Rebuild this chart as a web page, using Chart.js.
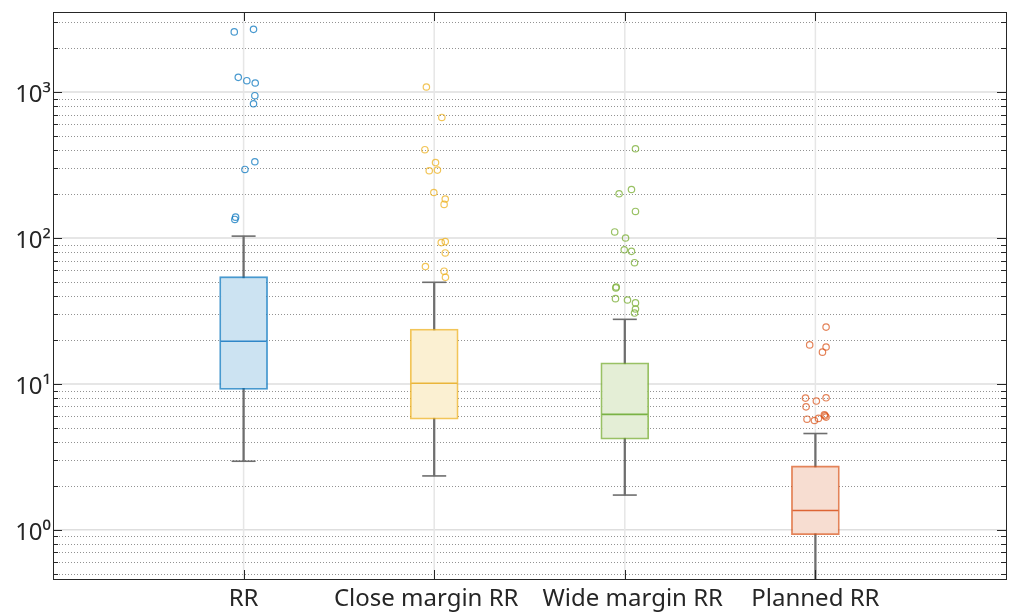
<!DOCTYPE html>
<html>
<head>
<meta charset="utf-8">
<script src="https://cdn.jsdelivr.net/npm/chart.js@4.4.1/dist/chart.umd.min.js"></script>
<style>
  body { margin: 0; background: #fff; }
  canvas { display: block; }
</style>
</head>
<body>
<canvas id="rrChart" width="1009" height="613"></canvas>
<script>
// ---- data ----
var categories = ['RR', 'Close margin RR', 'Wide margin RR', 'Planned RR'];
var whiskerLow  = [2.95, 2.34, 1.73, 0.40];
var boxLow      = [9.17, 5.73, 4.18, 0.927];
var medians     = [19.6, 10.1, 6.18, 1.355];
var boxHigh     = [54.3, 23.8, 13.96, 2.74];
var whiskerHigh = [103, 49.7, 27.7, 4.57];

var outliersRR = [2585, 2693, 1262, 1197, 1154, 945, 832, 333, 295, 139, 134];
var jitterRR   = [-0.049, 0.052, -0.028, 0.017, 0.061, 0.059, 0.052, 0.059, 0.007, -0.042, -0.046];

var outliersClose = [1084, 670, 403, 329, 289, 292, 205, 185, 170, 93, 94.5, 79, 63.7, 59.2, 53.8];
var jitterClose   = [-0.041, 0.040, -0.049, 0.007, -0.026, 0.017, -0.002, 0.058, 0.052, 0.037, 0.058, 0.058, -0.046, 0.052, 0.059];

var outliersWide = [409, 215, 201, 152, 110, 100, 83, 81, 67.7, 46.2, 45.5, 38.4, 37.6, 35.9, 32.6, 30.6];
var jitterWide   = [0.056, 0.035, -0.030, 0.056, -0.053, 0.004, -0.003, 0.035, 0.051, -0.045, -0.047, -0.049, 0.014, 0.056, 0.056, 0.051];

var outliersPlanned = [24.5, 18.5, 17.9, 16.5, 7.99, 7.63, 8.03, 6.96, 5.73, 5.61, 5.80, 6.14, 5.92, 6.04];
var jitterPlanned   = [0.056, -0.030, 0.056, 0.037, -0.052, 0.005, 0.056, -0.049, -0.044, -0.005, 0.016, 0.047, 0.056, 0.051];

var yTickValues = [1, 10, 100, 1000];
var yTickLabels = ['10\u2070', '10\u00b9', '10\u00b2', '10\u00b3'];

// ---- styles ----
var edgeColors = ['rgba(0,114,189,0.72)', 'rgba(237,177,32,0.75)', 'rgba(119,172,48,0.75)', 'rgba(217,83,25,0.72)'];
var lineColors = ['#2f86c8', '#eab53a', '#7ab245', '#dd6434'];
var fillColors = ['#cce3f2', '#fbf0d2', '#e4eed6', '#f7ddd1'];
// the two middle labels sit a little apart in the original
var labelPadBefore = ['', '', '\u2002\u2009', ''];
var labelPadAfter  = ['', '\u2002\u2009', '', ''];
var axisColor = '#262626';
var whiskerColor = '#6e6e6e';

var outlierSets = [
  [outliersRR, jitterRR],
  [outliersClose, jitterClose],
  [outliersWide, jitterWide],
  [outliersPlanned, jitterPlanned]
];

var boxData = categories.map(function (c, i) { return { x: i + 1, y: [boxLow[i], boxHigh[i]] }; });
var whiskerData = categories.map(function (c, i) { return { x: i + 1, y: [whiskerLow[i], whiskerHigh[i]] }; });
var capData = [];
categories.forEach(function (c, i) {
  capData.push({ x: i + 1, y: whiskerLow[i] });
  capData.push({ x: i + 1, y: whiskerHigh[i] });
});
var medianData = categories.map(function (c, i) { return { x: i + 1, y: medians[i] }; });

var datasets = [];
datasets.push({
  type: 'bar', data: whiskerData, grouped: false, barThickness: 1.6,
  backgroundColor: whiskerColor, borderWidth: 0, order: 5, clip: 0
});
datasets.push({
  type: 'scatter', data: capData, pointStyle: 'line', radius: 12,
  borderColor: whiskerColor, borderWidth: 1.6, order: 4, clip: 0
});
datasets.push({
  type: 'bar', data: boxData, grouped: false, barThickness: 48,
  backgroundColor: fillColors, borderColor: edgeColors, borderWidth: 1.8,
  borderSkipped: false, order: 3, clip: 0
});
datasets.push({
  type: 'scatter', data: medianData, pointStyle: 'line', radius: 23,
  borderColor: lineColors, borderWidth: 1.6, order: 2, clip: 0
});
outlierSets.forEach(function (set, i) {
  datasets.push({
    type: 'scatter',
    data: set[0].map(function (v, k) { return { x: i + 1 + set[1][k], y: v }; }),
    pointStyle: 'circle', radius: 3.2, borderWidth: 1.2,
    borderColor: edgeColors[i], backgroundColor: 'rgba(0,0,0,0)',
    order: 1, clip: 0
  });
});

// grid, frame and inward tick marks drawn from the chart's own scales
var framePlugin = {
  id: 'frame',
  beforeDatasetsDraw: function (chart) {
    var ctx = chart.ctx, a = chart.chartArea;
    var ys = chart.scales.y, xs = chart.scales.x;
    ctx.save();
    // minor dotted lines
    ctx.strokeStyle = 'rgba(38,38,38,0.5)';
    ctx.lineWidth = 1;
    ctx.setLineDash([1, 2]);
    for (var e = -1; e <= 3; e++) {
      for (var m = 2; m <= 9; m++) {
        var v = m * Math.pow(10, e);
        if (v < ys.min || v > ys.max) continue;
        var py = Math.round(ys.getPixelForValue(v)) + 0.5;
        ctx.beginPath(); ctx.moveTo(a.left, py); ctx.lineTo(a.right, py); ctx.stroke();
      }
    }
    ctx.setLineDash([]);
    // major lines
    ctx.strokeStyle = '#dedede';
    ctx.lineWidth = 1.5;
    yTickValues.forEach(function (v) {
      var py = ys.getPixelForValue(v);
      ctx.beginPath(); ctx.moveTo(a.left, py); ctx.lineTo(a.right, py); ctx.stroke();
    });
    ctx.strokeStyle = '#e6e6e6';
    categories.forEach(function (c, i) {
      var px = xs.getPixelForValue(i + 1);
      ctx.beginPath(); ctx.moveTo(px, a.top); ctx.lineTo(px, a.bottom); ctx.stroke();
    });
    ctx.restore();
  },
  afterDatasetsDraw: function (chart) {
    var ctx = chart.ctx, a = chart.chartArea;
    var ys = chart.scales.y, xs = chart.scales.x;
    ctx.save();
    ctx.strokeStyle = axisColor;
    ctx.lineWidth = 1;
    for (var e = -1; e <= 3; e++) {
      for (var m = 1; m <= 9; m++) {
        var v = m * Math.pow(10, e);
        if (v < ys.min || v > ys.max) continue;
        var len = m === 1 ? 9 : 5;
        var py = Math.round(ys.getPixelForValue(v)) + 0.5;
        ctx.beginPath();
        ctx.moveTo(a.left, py); ctx.lineTo(a.left + len, py);
        ctx.moveTo(a.right, py); ctx.lineTo(a.right - len, py);
        ctx.stroke();
      }
    }
    categories.forEach(function (c, i) {
      var px = Math.round(xs.getPixelForValue(i + 1)) + 0.5;
      ctx.beginPath();
      ctx.moveTo(px, a.bottom); ctx.lineTo(px, a.bottom - 9);
      ctx.moveTo(px, a.top); ctx.lineTo(px, a.top + 9);
      ctx.stroke();
    });
    ctx.strokeRect(Math.round(a.left) + 0.5, Math.round(a.top) + 0.5,
                   Math.round(a.right - a.left), Math.round(a.bottom - a.top));
    ctx.restore();
  }
};

function noPadding(s) {
  s.paddingTop = 0; s.paddingBottom = 0; s.paddingLeft = 0; s.paddingRight = 0;
}

new Chart(document.getElementById('rrChart'), {
  type: 'scatter',
  data: { datasets: datasets },
  options: {
    responsive: false,
    animation: false,
    layout: { autoPadding: false, padding: { top: 12, right: 3, left: 0, bottom: 0 } },
    plugins: { legend: { display: false }, tooltip: { enabled: false } },
    scales: {
      x: {
        type: 'linear', min: 0, max: 5, offset: false,
        grid: { display: false, drawTicks: false }, border: { display: false },
        afterBuildTicks: function (s) {
          s.ticks = categories.map(function (c, i) { return { value: i + 1 }; });
        },
        afterFit: function (s) { s.height = 34; noPadding(s); },
        ticks: {
          autoSkip: false, maxRotation: 0, padding: 6, color: axisColor,
          font: { family: 'Noto Sans', size: 24 },
          callback: function (v) {
            var k = v - 1;
            return categories[k] ? labelPadBefore[k] + categories[k] + labelPadAfter[k] : '';
          }
        }
      },
      y: {
        type: 'logarithmic', min: 0.46, max: 3540,
        grid: { display: false, drawTicks: false }, border: { display: false },
        afterBuildTicks: function (s) {
          s.ticks = yTickValues.map(function (v) { return { value: v, major: true }; });
        },
        afterFit: function (s) { s.width = 53; noPadding(s); },
        ticks: {
          padding: 2, color: axisColor, labelOffset: 3,
          font: { family: 'Noto Sans', size: 24 },
          callback: function (v) {
            var k = yTickValues.indexOf(v);
            return k >= 0 ? yTickLabels[k] : '';
          }
        }
      }
    }
  },
  plugins: [framePlugin]
});
</script>
</body>
</html>
